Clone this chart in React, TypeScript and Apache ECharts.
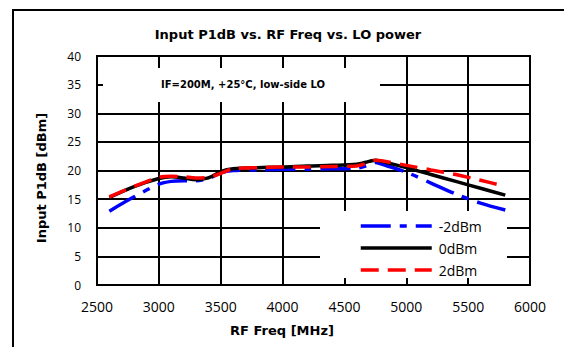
import React, { useEffect, useRef } from "react";
import * as echarts from "echarts";

const freqs = [2600, 2800, 3000, 3100, 3200, 3300, 3400, 3500, 3600, 3800, 4000, 4200, 4400, 4600, 4700, 4750, 4800, 5000, 5200, 5400, 5600, 5800];
const loMinus2 = [12.9, 15.4, 17.6, 18.1, 18.2, 18.2, 18.6, 19.6, 20.0, 20.1, 20.2, 20.2, 20.3, 20.4, 21.0, 21.4, 21.1, 19.7, 17.8, 15.9, 14.3, 13.1];
const lo0 = [15.3, 17.2, 18.6, 18.9, 18.7, 18.4, 18.7, 19.8, 20.3, 20.5, 20.6, 20.8, 20.9, 21.1, 21.6, 21.8, 21.6, 20.5, 19.3, 18.1, 16.9, 15.7];
const lo2 = [15.4, 17.2, 18.8, 19.0, 18.9, 18.7, 18.8, 19.5, 20.3, 20.5, 20.6, 20.6, 20.7, 20.8, 21.4, 21.8, 21.7, 20.9, 20.1, 19.3, 18.3, 17.2];
const seriesNames = ["-2dBm", "0dBm", "2dBm"];
const titleText = "Input P1dB vs. RF Freq vs. LO power";
const noteText = "IF=200M, +25°C, low-side LO";
const xName = "RF Freq [MHz]";
const yName = "Input P1dB [dBm]";

const pair = (ys: number[]) => freqs.map((f, i) => [f, ys[i]]);

export default function App() {
  const ref = useRef<HTMLDivElement>(null);
  useEffect(() => {
    if (!ref.current) return;
    const chart = echarts.init(ref.current, null, { renderer: "svg" });
    const bold = "DejaVu Sans";
    chart.setOption({
      animation: false,
      backgroundColor: "#fff",
      grid: { left: 97, right: 34, top: 56, bottom: 62, show: true, borderColor: "#000", borderWidth: 2 },
      xAxis: {
        type: "value",
        min: 2500,
        max: 6000,
        interval: 500,
        axisLine: { show: true, lineStyle: { color: "#000", width: 2 } },
        axisTick: { show: false },
        splitLine: { show: true, lineStyle: { color: "#000", width: 2 } },
        axisLabel: { color: "#000", fontFamily: "Open Sans", fontSize: 14, margin: 14, formatter: (v: number) => String(v) },
      },
      yAxis: {
        type: "value",
        min: 0,
        max: 40,
        interval: 5,
        axisLine: { show: true, lineStyle: { color: "#000", width: 2 } },
        axisTick: { show: false },
        splitLine: { show: true, lineStyle: { color: "#000", width: 2 } },
        axisLabel: { color: "#000", fontFamily: "Open Sans", fontSize: 12, margin: 16 },
      },
      legend: {
        orient: "vertical",
        left: 354,
        top: 214,
        itemWidth: 71,
        itemHeight: 14,
        itemGap: 8,
        z: 10,
        itemStyle: { opacity: 0 },
        lineStyle: { width: 3.5 },
        textStyle: { color: "#000", fontFamily: "Open Sans", fontSize: 14, padding: [0, 0, 0, 2] },
        data: seriesNames,
      },
      graphic: [
        { type: "rect", z: 100, shape: { x: 13, y: 10, width: 700, height: 500 }, style: { fill: "none", stroke: "#000", lineWidth: 2 }, silent: true },
        { type: "rect", z: 3, shape: { x: 103, y: 68, width: 277, height: 34 }, style: { fill: "#fff" } },
        { type: "rect", z: 3, shape: { x: 320, y: 211, width: 187, height: 67 }, style: { fill: "#fff" } },
        { type: "text", z: 10, x: 243, y: 84, style: { text: noteText, fontFamily: bold, fontWeight: "bold", fontSize: 10, fill: "#000", align: "center", verticalAlign: "middle" } },
        { type: "text", z: 10, x: 288, y: 34, style: { text: titleText, fontFamily: bold, fontWeight: "bold", fontSize: 13, fill: "#000", align: "center", verticalAlign: "middle" } },
        { type: "text", z: 10, x: 282, y: 330, style: { text: xName, fontFamily: bold, fontWeight: "bold", fontSize: 13, fill: "#000", align: "center", verticalAlign: "middle" } },
        { type: "text", z: 10, x: 41, y: 178, rotation: Math.PI / 2, style: { text: yName, fontFamily: bold, fontWeight: "bold", fontSize: 13, fill: "#000", align: "center", verticalAlign: "middle" } },
      ],
      series: [
        { name: seriesNames[0], type: "line", data: pair(loMinus2), smooth: 0.3, symbol: "none", z: 5, lineStyle: { color: "#0000ff", width: 3.5, type: [30, 9, 7, 9] }, itemStyle: { color: "#0000ff" } },
        { name: seriesNames[1], type: "line", data: pair(lo0), smooth: 0.3, symbol: "none", z: 6, lineStyle: { color: "#000", width: 3.5, type: "solid" }, itemStyle: { color: "#000" } },
        { name: seriesNames[2], type: "line", data: pair(lo2), smooth: 0.3, symbol: "none", z: 7, lineStyle: { color: "#ff0000", width: 3.5, type: [18, 9] }, itemStyle: { color: "#ff0000" } },
      ],
    });
    return () => chart.dispose();
  }, []);
  return <div ref={ref} style={{ position: "absolute", left: 0, top: 0, width: 564, height: 347 }} />;
}
